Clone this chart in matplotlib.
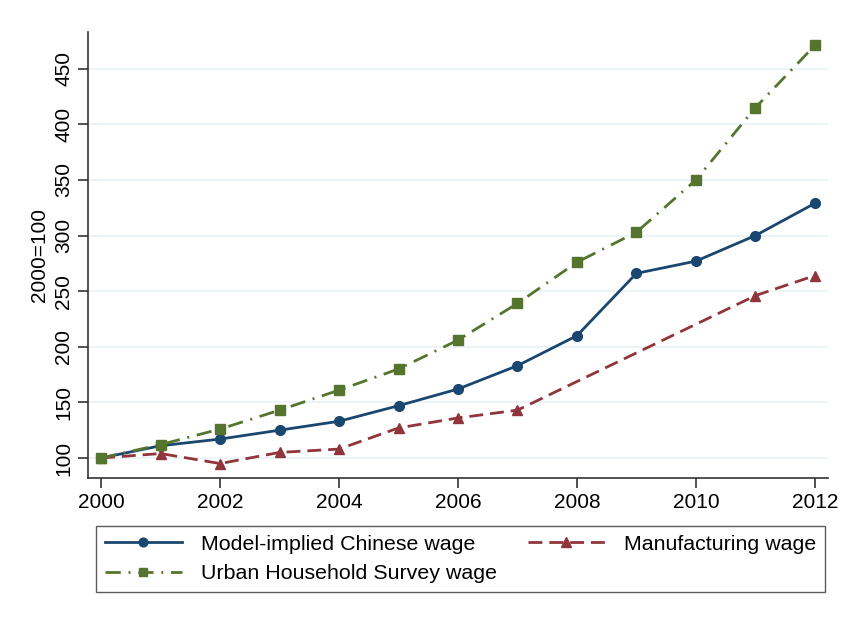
import matplotlib
matplotlib.use("Agg")
import matplotlib.pyplot as plt

years = [2000, 2001, 2002, 2003, 2004, 2005, 2006, 2007, 2008, 2009, 2010, 2011, 2012]
model_wage = [100, 111, 117, 125, 133, 147, 162, 183, 210, 266, 277, 300, 329]
urban_wage = [100, 112, 126, 143, 161, 180, 206, 239, 276, 303, 350, 415, 471]
manuf_years = [2000, 2001, 2002, 2003, 2004, 2005, 2006, 2007, 2011, 2012]
manuf_wage = [100, 104, 95, 105, 108, 127, 136, 143, 246, 264]
yticks = [100, 150, 200, 250, 300, 350, 400, 450]
xticks = [2000, 2002, 2004, 2006, 2008, 2010, 2012]

plt.rcParams['font.family'] = ['Liberation Sans', 'DejaVu Sans']

navy = "#1a476f"
maroon = "#90353b"
green = "#55752f"
axcol = "#333333"

fig = plt.figure(figsize=(8.52, 6.17), dpi=100)
ax = fig.add_axes([88/852, 1-478/617, (828-88)/852, (478-32)/617])

l1, = ax.plot(years, model_wage, color=navy, lw=2, marker='o', ms=7, label='Model-implied Chinese wage', zorder=3)
l2, = ax.plot(manuf_years, manuf_wage, color=maroon, lw=2, marker='^', ms=7.5, label='Manufacturing wage',
              dashes=(5, 2.5), zorder=3)
l3, = ax.plot(years, urban_wage, color=green, lw=2, marker='s', ms=7, label='Urban Household Survey wage',
              dashes=(5.5, 2.8, 0.7, 2.8), zorder=3)

ax.set_xlim(1999.78, 2012.22)
ax.set_ylim(82, 483)
ax.set_yticks(yticks)
ax.set_xticks(xticks)
ax.grid(axis='y', color='#eaf2f3', lw=1.2)
ax.set_axisbelow(True)
for s in ['top', 'right']:
    ax.spines[s].set_visible(False)
for s in ['left', 'bottom']:
    ax.spines[s].set_color(axcol)
    ax.spines[s].set_linewidth(1.2)
ax.tick_params(axis='both', colors=axcol, labelcolor='black', length=7, width=1.2, labelsize=15)
for lab in ax.get_yticklabels():
    lab.set_rotation(90)
    lab.set_va('center')
ax.set_ylabel('2000=100', fontsize=15, labelpad=4)

leg = fig.legend([l1, l3, l2], [l1.get_label(), l3.get_label(), l2.get_label()],
                 ncol=2, loc='upper left', bbox_to_anchor=(96/852, 1-526/617),
                 fontsize=15.4, numpoints=1, handlelength=3.6, handletextpad=0.9, fancybox=False,
                 edgecolor=axcol, borderaxespad=0, borderpad=0.42, labelspacing=0.48, columnspacing=1.42,
                 markerscale=0.9)
leg.get_frame().set_linewidth(1.0)

fig.savefig("out.png", dpi=100)
